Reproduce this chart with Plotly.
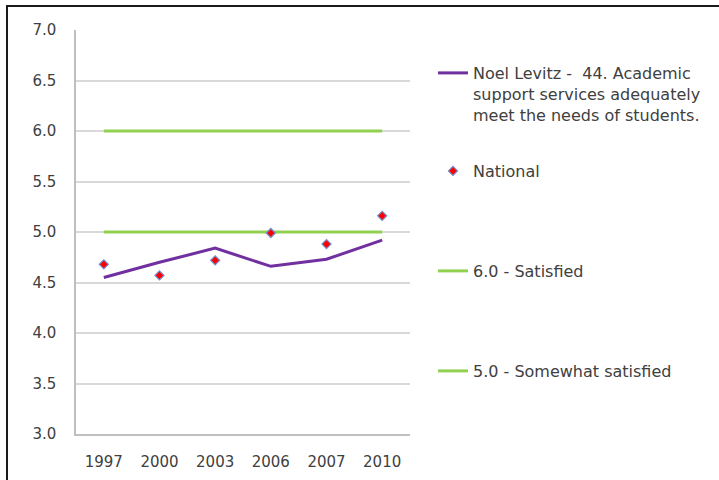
import plotly.graph_objects as go

years = ["1997", "2000", "2003", "2006", "2007", "2010"]
noel_levitz = [4.55, 4.70, 4.84, 4.66, 4.73, 4.92]
national = [4.68, 4.57, 4.72, 4.99, 4.88, 5.16]
satisfied = [6.0, 6.0, 6.0, 6.0, 6.0, 6.0]
somewhat_satisfied = [5.0, 5.0, 5.0, 5.0, 5.0, 5.0]

FONT = "DejaVu Sans"
TXT = "#404040"
PURPLE = "#7030a0"
GREEN = "#92d050"

# plot area pixel geometry
L, R, T, B = 76, 410, 30, 434
W, H = 719, 480


def px_x(px):
    return (px - L) / (R - L)


def px_y(py):
    return (B - py) / (B - T)


fig = go.Figure()

fig.add_trace(go.Scatter(
    x=years, y=satisfied, mode="lines", name="6.0 - Satisfied",
    line=dict(color=GREEN, width=3), legend="legend3"))
fig.add_trace(go.Scatter(
    x=years, y=somewhat_satisfied, mode="lines", name="5.0 - Somewhat satisfied",
    line=dict(color=GREEN, width=3), legend="legend4"))
fig.add_trace(go.Scatter(
    x=years, y=noel_levitz, mode="lines",
    name="Noel Levitz -  44. Academic<br>support services adequately<br>meet the needs of students.",
    line=dict(color=PURPLE, width=3), legend="legend"))
fig.add_trace(go.Scatter(
    x=years, y=national, mode="markers", name="National",
    marker=dict(symbol="diamond", size=7, color="#ff0000",
                line=dict(color="#6f8fd0", width=1.2)),
    legend="legend2"))

leg_common = dict(font=dict(family=FONT, size=16, color=TXT),
                  bgcolor="rgba(0,0,0,0)", borderwidth=0,
                  xanchor="left", x=px_x(433))

fig.update_layout(
    width=W, height=H,
    showlegend=True,
    margin=dict(l=L, r=W - R, t=T, b=H - B, pad=0, autoexpand=False),
    paper_bgcolor="white", plot_bgcolor="white",
    font=dict(family=FONT, size=15, color=TXT),
    legend=dict(**leg_common, y=px_y(56), yanchor="top", valign="top"),
    legend2=dict(**leg_common, y=px_y(171), yanchor="middle"),
    legend3=dict(**leg_common, y=px_y(271), yanchor="middle"),
    legend4=dict(**leg_common, y=px_y(371), yanchor="middle"),
    xaxis=dict(type="category", range=[-0.5, 5.5], showgrid=False,
               showline=True, linecolor="#bfbfbf", linewidth=1.5,
               ticks="", ticklabelstandoff=13, automargin=False,
               tickfont=dict(family=FONT, size=15, color=TXT)),
    yaxis=dict(range=[3, 7], dtick=0.5, tickformat=".1f", showgrid=True,
               gridcolor="#d9d9d9", gridwidth=1.5, zeroline=False,
               showline=True, linecolor="#bfbfbf", linewidth=1.5,
               ticks="", ticklabelstandoff=15, automargin=False,
               tickfont=dict(family=FONT, size=15, color=TXT)),
    shapes=[
        dict(type="line", xref="paper", yref="paper",
             x0=px_x(7), x1=px_x(W + 5), y0=px_y(6), y1=px_y(6),
             line=dict(color="#1a1a1a", width=2)),
        dict(type="line", xref="paper", yref="paper",
             x0=px_x(7), x1=px_x(7), y0=px_y(5), y1=px_y(H + 5),
             line=dict(color="#1a1a1a", width=2)),
    ],
)

fig.write_html("out.html")
